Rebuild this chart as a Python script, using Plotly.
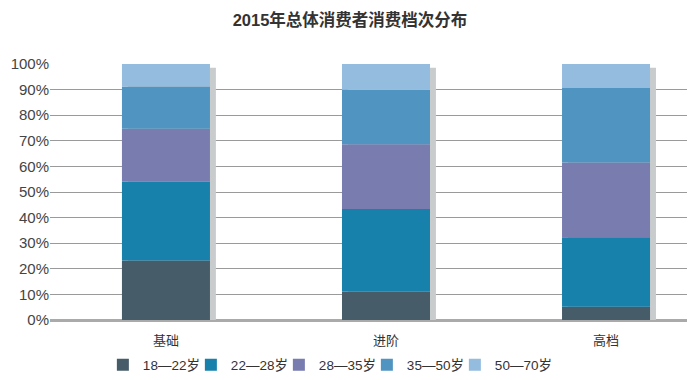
import plotly.graph_objects as go
import numpy as np

categories = ["基础", "进阶", "高档"]
series_names = ["18—22岁", "22—28岁", "28—35岁", "35—50岁", "50—70岁"]
s18_22 = [23.2, 11.1, 5.2]
s22_28 = [30.8, 32.3, 27.1]
s28_35 = [20.7, 25.3, 29.2]
s35_50 = [16.5, 21.2, 29.1]
s50_70 = [8.8, 10.1, 9.4]
shadow_vals = [98.5, 98.5, 98.5]
y_ticks = [0, 10, 20, 30, 40, 50, 60, 70, 80, 90, 100]
y_tick_labels = ["0%", "10%", "20%", "30%", "40%", "50%", "60%", "70%", "80%", "90%", "100%"]

colors = ["#465c69", "#1881ab", "#797caf", "#5094c1", "#94bcdf"]
series = [s18_22, s22_28, s28_35, s35_50, s50_70]

font_family = "Liberation Sans, Arial, Noto Sans CJK SC, sans-serif"

fig = go.Figure()
xpos = np.arange(len(categories))

# shadow behind bars
fig.add_trace(go.Bar(
    x=xpos, y=shadow_vals, base=0, width=0.4, offset=-0.2 + 0.027,
    marker=dict(color="#c9cccd", line=dict(width=0)),
    showlegend=False, hoverinfo="skip"))

base = np.zeros(len(categories))
for name, vals, c in zip(series_names, series, colors):
    fig.add_trace(go.Bar(
        x=xpos, y=vals, base=base.copy(), name=name, width=0.4, offset=-0.2,
        marker=dict(color=c, line=dict(width=0))))
    base = base + np.array(vals)

# invisible spacer entry so the last legend label is not clipped
fig.add_trace(go.Bar(
    x=[None], y=[None], name=" ",
    marker=dict(color="rgba(0,0,0,0)", line=dict(width=0, color="rgba(0,0,0,0)")),
    showlegend=True, hoverinfo="skip"))

fig.update_layout(
    width=700, height=380,
    barmode="overlay",
    paper_bgcolor="white", plot_bgcolor="white",
    margin=dict(l=42, r=21, t=56, b=68, autoexpand=False),
    font=dict(family=font_family, size=14, color="#333333"),
    title=dict(text="<b>2015年总体消费者消费档次分布</b>", x=342 / 700, xanchor="center",
               xref="container", yref="container", y=1 - 12 / 380, yanchor="middle",
               font=dict(size=16.5, color="#333333", family=font_family)),
    xaxis=dict(range=[-0.527, 2.368], tickmode="array", tickvals=list(xpos),
               ticktext=categories, showgrid=False, zeroline=False, showline=False,
               tickfont=dict(size=13, color="#333333"), ticks="", ticklen=0,
               ticklabelstandoff=11, automargin=False),
    yaxis=dict(range=[0, 100], tickmode="array", tickvals=y_ticks, ticktext=y_tick_labels,
               showgrid=True, gridcolor="#9a9a9a", gridwidth=1.2,
               zeroline=True, zerolinecolor="#aaaaaa", zerolinewidth=2.5,
               showline=False, tickfont=dict(size=15, color="#444444"), ticks="",
               automargin=False),
    legend=dict(orientation="h", x=0.083, xanchor="left", y=-0.176, yanchor="middle",
                traceorder="normal", font=dict(size=13.5, color="#333333"),
                itemwidth=30, entrywidth=43, entrywidthmode="pixels"),
)

fig.write_html("out.html")
